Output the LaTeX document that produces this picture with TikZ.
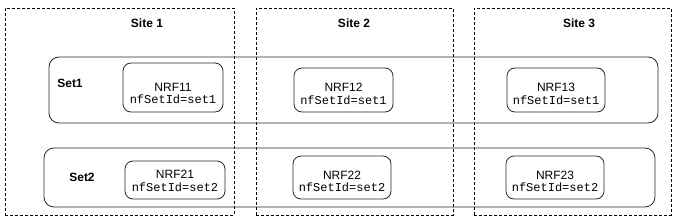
\documentclass[tikz,border=0pt]{standalone}
\usepackage{fontspec}
\setmainfont{Liberation Sans}
\setmonofont{Liberation Mono}
\usepackage{tikz}
\usetikzlibrary{calc}
\definecolor{boxline}{RGB}{40,40,40}

\begin{document}
\begin{tikzpicture}[x=1pt,y=-1pt,
  site/.style={draw=black,dash pattern=on 3pt off 2pt,line width=0.8pt,inner sep=0pt},
  sitelbl/.style={font=\fontsize{12}{14}\selectfont\bfseries},
  setbox/.style={draw=boxline,rounded corners=10pt,line width=0.8pt,inner sep=0pt},
  setlbl/.style={font=\fontsize{12}{14}\selectfont\bfseries},
  nrf/.style={draw=boxline,rounded corners=8pt,line width=0.8pt,inner sep=0pt},
  nrftxt/.style={align=center,inner sep=0pt,font=\fontsize{12}{12.5}\selectfont},
]
  \useasboundingbox (0,0) rectangle (676,219);

  % sites
  \node[site,minimum width=229pt,minimum height=207pt] (site1) at (119.5,111.5) {};
  \node[site,minimum width=197pt,minimum height=207pt] (site2) at (354.5,111.5) {};
  \node[site,minimum width=197pt,minimum height=207pt] (site3) at (572.5,111.5) {};
  \node[sitelbl] (s1lbl) at (147,23) {Site 1};
  \node[sitelbl] (s2lbl) at (354,23) {Site 2};
  \node[sitelbl] (s3lbl) at (579,23) {Site 3};

  % sets
  \node[setbox,minimum width=609pt,minimum height=66pt] (set1) at (353.5,90) {};
  \node[setbox,minimum width=611pt,minimum height=59pt] (set2) at (349.5,177.5) {};
  \node[setlbl] (set1lbl) at (70,83) {Set1};
  \node[setlbl] (set2lbl) at (82,177) {Set2};

  % NRF instances
  \node[nrf,minimum width=100pt,minimum height=49pt] (nrf11) at (173,87.5) {};
  \node[nrf,minimum width=99pt,minimum height=44pt] (nrf12) at (343.5,90) {};
  \node[nrf,minimum width=98pt,minimum height=44pt] (nrf13) at (556,90) {};
  \node[nrf,minimum width=100pt,minimum height=38pt] (nrf21) at (175,180) {};
  \node[nrf,minimum width=98pt,minimum height=43pt] (nrf22) at (342,177.5) {};
  \node[nrf,minimum width=98pt,minimum height=43pt] (nrf23) at (555,177.5) {};

  \node[nrftxt] (t11) at ($(nrf11)+(0,6)$) {NRF11\\\texttt{nfSetId=set1}};
  \node[nrftxt] (t12) at ($(nrf12)+(0,4)$) {NRF12\\\texttt{nfSetId=set1}};
  \node[nrftxt] (t13) at ($(nrf13)+(0,4)$) {NRF13\\\texttt{nfSetId=set1}};
  \node[nrftxt] (t21) at ($(nrf21)+(0,1)$) {NRF21\\\texttt{nfSetId=set2}};
  \node[nrftxt] (t22) at ($(nrf22)+(0,4)$) {NRF22\\\texttt{nfSetId=set2}};
  \node[nrftxt] (t23) at ($(nrf23)+(0,4)$) {NRF23\\\texttt{nfSetId=set2}};
\end{tikzpicture}
\end{document}
